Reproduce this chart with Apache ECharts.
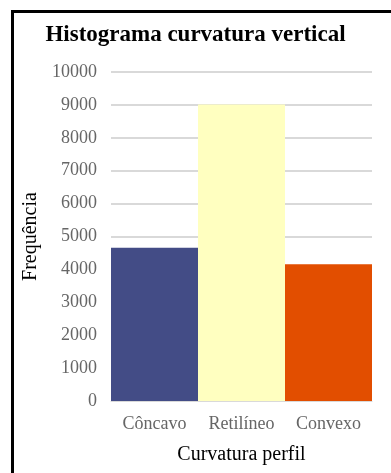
<!DOCTYPE html>
<html>
<head>
<meta charset="utf-8">
<script src="https://cdn.jsdelivr.net/npm/echarts@6/dist/echarts.min.js"></script>
<style>
  html, body { margin: 0; padding: 0; background: #fff; }
  #frame { position: absolute; left: 11px; top: 10px; width: 380px; height: 463px;
           border-left: 3px solid #000; border-top: 3px solid #000; box-sizing: border-box; }
  #chart { position: absolute; left: 0; top: 0; width: 391px; height: 473px; }
</style>
</head>
<body>
<div id="frame"></div>
<div id="chart"></div>
<script>
var categories = ['Côncavo', 'Retilíneo', 'Convexo'];
var values = [4660, 9010, 4160];
var colors = ['#434C86', '#FFFFC0', '#E24E00'];

var chart = echarts.init(document.getElementById('chart'));
chart.setOption({
  animation: false,
  title: {
    text: 'Histograma curvatura vertical',
    left: 'center',
    top: 19,
    textStyle: { fontFamily: 'Liberation Serif', fontWeight: 'bold', fontSize: 23, color: '#000' }
  },
  grid: { left: 111, right: 19, top: 72, bottom: 72 },
  xAxis: {
    type: 'category',
    data: categories,
    name: 'Curvatura perfil',
    nameLocation: 'middle',
    nameGap: 44,
    nameTextStyle: { fontFamily: 'Liberation Serif', fontSize: 20, color: '#000' },
    axisLine: { lineStyle: { color: '#d9d9d9', width: 1 } },
    axisTick: { show: false },
    axisLabel: { fontFamily: 'Liberation Serif', fontSize: 18, color: '#666666', margin: 14 }
  },
  yAxis: {
    type: 'value',
    min: 0,
    max: 10000,
    interval: 1000,
    name: 'Frequência',
    nameLocation: 'middle',
    nameGap: 67,
    nameTextStyle: { fontFamily: 'Liberation Serif', fontSize: 20, color: '#000' },
    axisLine: { show: false },
    axisTick: { show: false },
    axisLabel: {
      fontFamily: 'Liberation Serif', fontSize: 18, color: '#666666', margin: 14,
      formatter: function (v) { return String(v); }
    },
    splitLine: { lineStyle: { color: '#d9d9d9', width: 2 } }
  },
  series: [{
    type: 'bar',
    barCategoryGap: 0,
    data: values.map(function (v, i) {
      return { value: v, itemStyle: { color: colors[i] } };
    })
  }]
});
</script>
</body>
</html>
